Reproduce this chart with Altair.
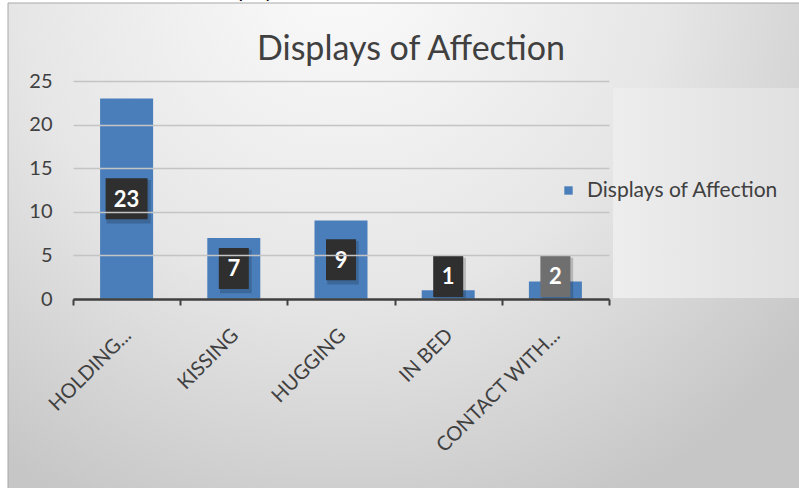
import altair as alt
import pandas as pd

categories = ["HOLDING...", "KISSING", "HUGGING", "IN BED", "CONTACT WITH..."]
values = [23, 7, 9, 1, 2]
y_ticks = [0, 5, 10, 15, 20, 25]
series_name = "Displays of Affection"
chart_title = "Displays of Affection"

df = pd.DataFrame({"cat": categories, "v": values, "series": [series_name] * len(categories)})
one = pd.DataFrame({"k": [0]})

W, H = 536, 218
FONT = "Lato"
TXT = "#404040"

bg = alt.Chart(one).mark_rect(
    fill=alt.RadialGradient(
        gradient="radial", x1=0.42, y1=0.15, r1=0.0, x2=0.42, y2=0.15, r2=0.75,
        stops=[alt.GradientStop(offset=0, color="#fbfbfb"),
               alt.GradientStop(offset=0.55, color="#e6e6e6"),
               alt.GradientStop(offset=1, color="#c6c6c6")]),
    stroke="#a8a8a8", strokeWidth=1,
).encode(x=alt.value(-65), x2=alt.value(730), y=alt.value(-78), y2=alt.value(410))

panel = alt.Chart(one).mark_rect(
    fill=alt.LinearGradient(
        gradient="linear", x1=0, y1=0, x2=1, y2=0,
        stops=[alt.GradientStop(offset=0, color="#ededed"),
               alt.GradientStop(offset=1, color="#e0e0e0")]),
).encode(x=alt.value(540), x2=alt.value(730), y=alt.value(7), y2=alt.value(217))

caption = alt.Chart(one).mark_text(
    text=chart_title, font=FONT, fontSize=20, color="#000000", align="left", baseline="alphabetic"
).encode(x=alt.value(137), y=alt.value(-83))

title = alt.Chart(one).mark_text(
    text=chart_title, font=FONT, fontSize=34, color=TXT, align="center", baseline="alphabetic"
).encode(x=alt.value(338), y=alt.value(-21))

x_enc = alt.X("cat:N", sort=categories, title=None,
              scale=alt.Scale(paddingInner=0, paddingOuter=0),
              axis=alt.Axis(labelAngle=-45, labelAlign="right", labelBaseline="middle",
                            labelFont=FONT, labelFontSize=20, labelColor=TXT,
                            labelPadding=27, labelOffset=1,
                            domainColor=TXT, domainWidth=2.5, tickColor=TXT, tickWidth=2,
                            tickSize=6, tickBand="extent", grid=False, zindex=1))
y_scale = alt.Scale(domain=[0, 25], nice=False)

bars = alt.Chart(df).mark_bar(size=53).encode(
    x=x_enc,
    y=alt.Y("v:Q", scale=y_scale, title=None,
            axis=alt.Axis(values=y_ticks, grid=True, gridColor="#c4c4c4", gridWidth=1.5,
                          domain=False, ticks=False, labelPadding=21, zindex=1,
                          labelFont=FONT, labelFontSize=20, labelColor=TXT)),
    color=alt.Color("series:N", scale=alt.Scale(range=["#4A7EBB"]),
                    legend=alt.Legend(title=None, orient="none", legendX=485, legendY=99,
                                      symbolType="square", symbolSize=70, symbolStrokeWidth=0,
                                      labelFont=FONT, labelFontSize=21, labelColor=TXT,
                                      labelOffset=8, padding=0, labelLimit=0)),
)

narrow = "M-1,-1.37L1,-1.37L1,1.37L-1,1.37Z"
wide = "M-1.4,-1.37L1.4,-1.37L1.4,1.37L-1.4,1.37Z"

lab_base = alt.Chart(df).transform_calculate(ly="max(datum.v / 2, 2.6)")

shadow = lab_base.mark_point(filled=True, opacity=0.18, size=1000, strokeWidth=0,
                             xOffset=2, yOffset=3).encode(
    x=alt.X("cat:N", sort=categories),
    y=alt.Y("ly:Q", scale=y_scale),
    shape=alt.condition("datum.v >= 10", alt.value(wide), alt.value(narrow)),
    fill=alt.value("#000000"),
)

boxes = lab_base.mark_point(filled=True, opacity=1, size=900, strokeWidth=0).encode(
    x=alt.X("cat:N", sort=categories),
    y=alt.Y("ly:Q", scale=y_scale),
    shape=alt.condition("datum.v >= 10", alt.value(wide), alt.value(narrow)),
    fill=alt.condition("datum.v == 2", alt.value("#6f6f6f"), alt.value("#2f2f2f")),
)

labels = lab_base.mark_text(font=FONT, fontSize=22, fontWeight="bold", color="white",
                            baseline="middle", align="center", dy=1).encode(
    x=alt.X("cat:N", sort=categories),
    y=alt.Y("ly:Q", scale=y_scale),
    text=alt.Text("v:Q"),
)

chart = alt.layer(bg, panel, caption, title, bars, shadow, boxes, labels).properties(
    width=W, height=H,
    autosize=alt.AutoSizeParams(type="none"),
    padding={"left": 73, "top": 81, "right": 190, "bottom": 189},
).configure_view(stroke=None).configure(background="white")

chart.save("out.html", embed_options={"renderer": "svg", "actions": False})
